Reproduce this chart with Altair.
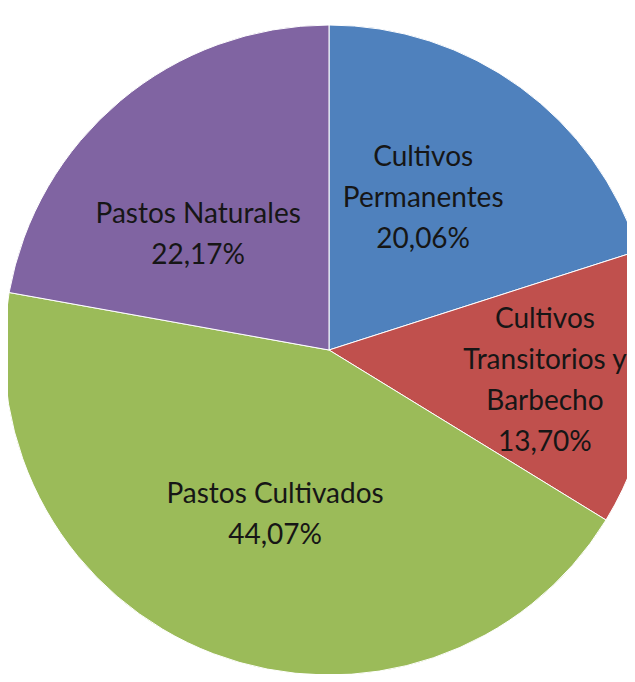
import altair as alt
import pandas as pd

# Data
categories = ["Cultivos Permanentes", "Cultivos Transitorios y Barbecho", "Pastos Cultivados", "Pastos Naturales"]
values = [20.06, 13.70, 44.07, 22.17]
label_lines = [
    ["Cultivos", "Permanentes", "20,06%"],
    ["Cultivos", "Transitorios y", "Barbecho", "13,70%"],
    ["Pastos Cultivados", "44,07%"],
    ["Pastos Naturales", "22,17%"],
]

# Styling (label anchor = first text line)
colors = ["#4F81BD", "#C0504D", "#9BBB59", "#8064A2"]
label_radius = [214, 218, 155, 188]        # px from centre
label_turn = [-10.0, -14.8, -0.5, -4.2]    # degrees shift from slice mid-angle

df = pd.DataFrame({
    "cat": categories,
    "value": values,
    "order": list(range(len(categories))),
    "label": label_lines,
    "lr": label_radius,
    "lt": label_turn,
})

CX, CY, R = 321, 342, 325

base = alt.Chart(df)

pie = base.mark_arc(stroke="white", strokeWidth=1).encode(
    theta=alt.Theta("value:Q", stack=True),
    order=alt.Order("order:Q"),
    color=alt.Color("cat:N", scale=alt.Scale(domain=categories, range=colors), legend=None),
    x=alt.value(CX),
    y=alt.value(CY),
    radius=alt.value(R),
)

labels = base.transform_window(
    cum="sum(value)", sort=[alt.SortField("order")], frame=[None, 0]
).transform_joinaggregate(
    total="sum(value)"
).transform_calculate(
    ltheta="((datum.cum - datum.value/2) / datum.total) * 2 * PI + datum.lt * PI / 180"
).mark_text(
    font="Lato", fontSize=28, color="#161616", lineHeight=41, baseline="middle", align="center"
).encode(
    theta=alt.Theta("ltheta:Q", scale=None),
    radius=alt.Radius("lr:Q", scale=None),
    text="label",
    x=alt.value(CX),
    y=alt.value(CY),
)

chart = alt.layer(pie, labels).properties(
    width=619, height=666, padding=0, autosize=alt.AutoSizeParams(type="none")
).configure_view(stroke=None)

chart.save("out.html", embed_options={"renderer": "svg", "actions": False})
